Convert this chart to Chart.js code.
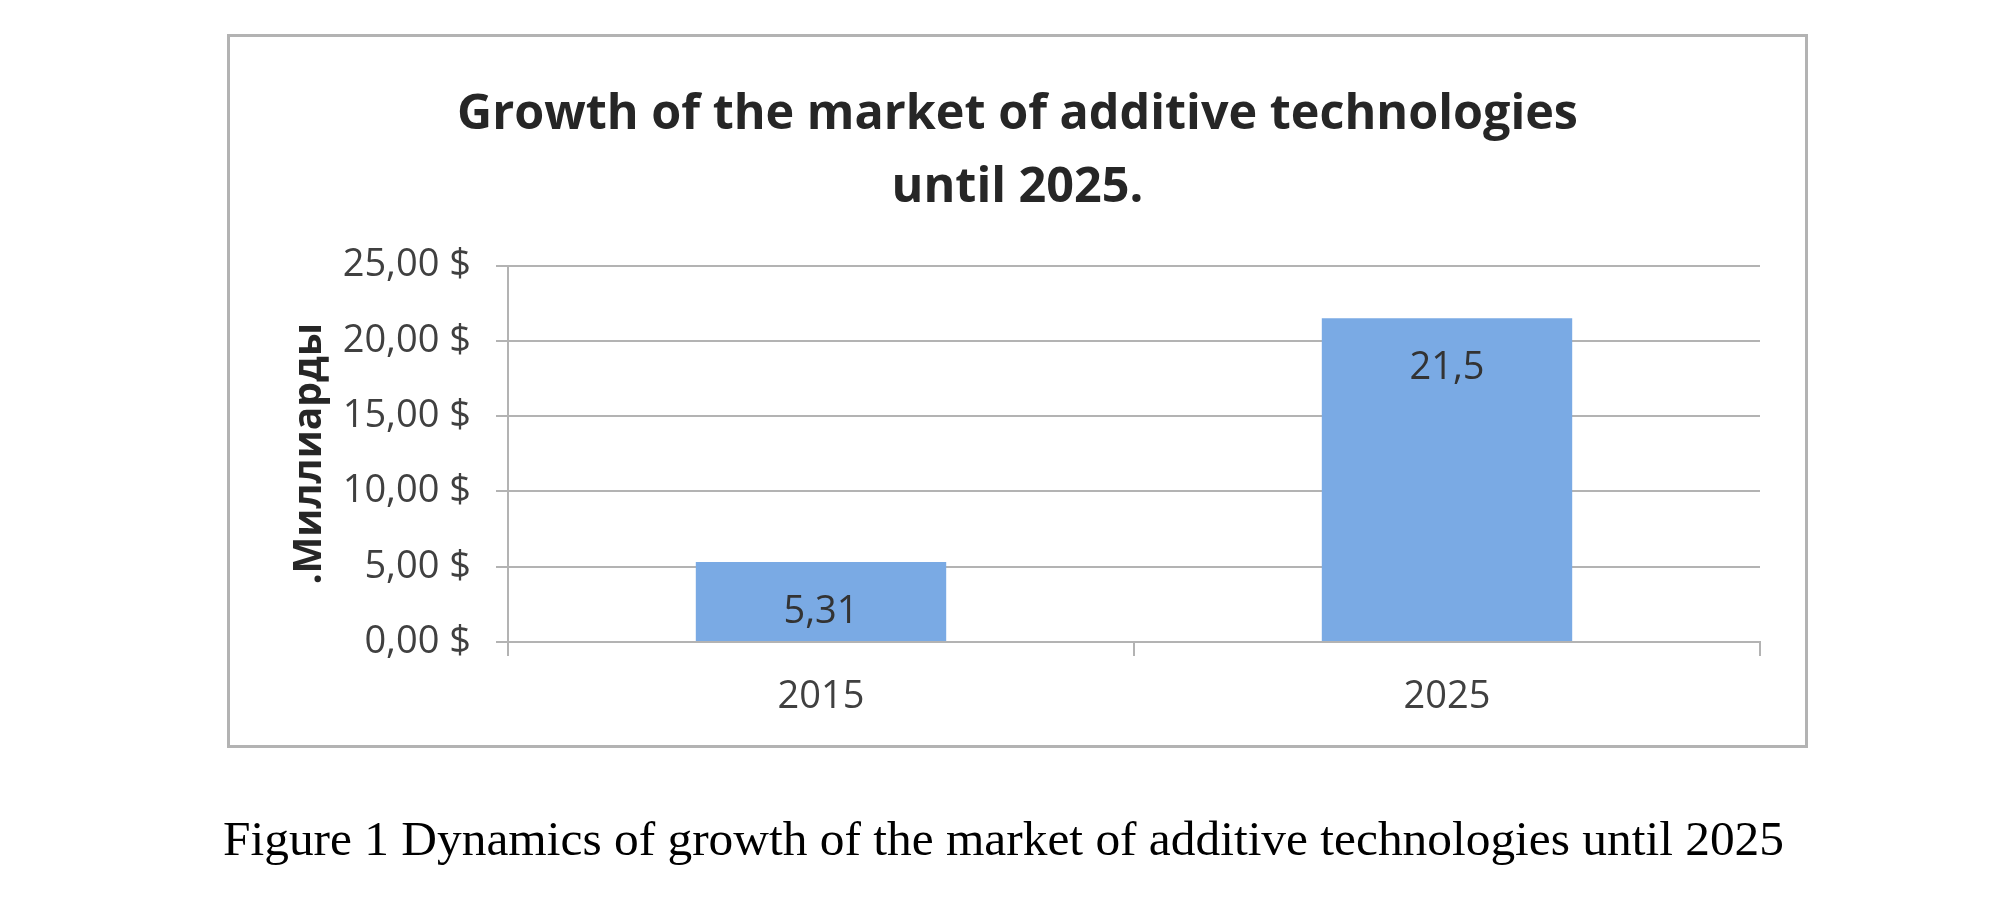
<!DOCTYPE html>
<html>
<head>
<meta charset="utf-8">
<script src="https://cdn.jsdelivr.net/npm/chart.js@4.4.1/dist/chart.umd.min.js"></script>
<style>
  html, body { margin: 0; padding: 0; background: #fff; }
  body { width: 2015px; height: 910px; position: relative; overflow: hidden; }
  #frame {
    position: absolute; left: 227px; top: 34px;
    width: 1575px; height: 708px;
    border: 3px solid #b3b3b3;
  }
  #caption {
    position: absolute; left: 213px; top: 814px; width: 1581px;
    text-align: center; font-family: "Liberation Serif", "Times New Roman", serif;
    font-size: 49.4px; line-height: 50px; color: #000; white-space: nowrap;
  }
</style>
</head>
<body>
<div id="frame"><canvas id="marketChart" width="1575" height="708"></canvas></div>
<div id="caption">Figure 1 Dynamics of growth of the market of additive technologies until 2025</div>
<script>
// data
var years = ['2015', '2025'];
var marketValues = [5.31, 21.5];
var yTicks = [0, 5, 10, 15, 20, 25];

var chartTitle = ['Growth of the market of additive technologies', 'until 2025.'];
var yTitle = '.Миллиарды';

function commaNum(v, digits) {
    var s = digits === undefined ? String(v) : v.toFixed(digits);
    return s.replace('.', ',');
}

// draws the value inside the top of each bar
var barValueLabels = {
    id: 'barValueLabels',
    afterDatasetsDraw: function (chart) {
        var ctx = chart.ctx;
        var meta = chart.getDatasetMeta(0);
        ctx.save();
        ctx.font = '38px "Open Sans"';
        ctx.fillStyle = '#333333';
        ctx.textAlign = 'center';
        ctx.textBaseline = 'middle';
        meta.data.forEach(function (bar, i) {
            ctx.fillText(commaNum(marketValues[i]), bar.x, bar.y + 50);
        });
        ctx.restore();
    }
};

var gridGrey = '#b3b3b3';
var textGrey = '#404040';

var ctx = document.getElementById('marketChart').getContext('2d');
var marketChart = new Chart(ctx, {
    type: 'bar',
    data: {
        labels: years,
        datasets: [{
            label: 'Market',
            data: marketValues,
            backgroundColor: 'rgb(122, 170, 228)',
            borderWidth: 0,
            barPercentage: 0.4,
            categoryPercentage: 1.0
        }]
    },
    options: {
        responsive: false,
        devicePixelRatio: 1,
        animation: false,
        layout: { padding: { left: 45, right: 45, top: 0, bottom: 0 } },
        plugins: {
            legend: { display: false },
            tooltip: { enabled: false },
            title: {
                display: true,
                text: chartTitle,
                color: '#262626',
                font: { family: 'Open Sans', size: 48.5, weight: 'bold', lineHeight: 1.5 },
                padding: { top: 42, bottom: 41 }
            }
        },
        scales: {
            x: {
                offset: true,
                grid: {
                    offset: true,
                    drawOnChartArea: false,
                    drawTicks: true,
                    tickLength: 14,
                    color: gridGrey,
                    lineWidth: 2
                },
                border: { display: true, color: gridGrey, width: 2 },
                ticks: {
                    color: textGrey,
                    font: { family: 'Open Sans', size: 38 },
                    padding: 18
                },
                afterFit: function (scale) { scale.height = 103; }
            },
            y: {
                min: 0,
                max: 25,
                afterBuildTicks: function (scale) {
                    scale.ticks = yTicks.map(function (v) { return { value: v }; });
                },
                grid: {
                    color: gridGrey,
                    lineWidth: 2,
                    drawTicks: true,
                    tickLength: 12
                },
                border: { display: true, color: gridGrey, width: 2 },
                ticks: {
                    color: textGrey,
                    font: { family: 'Open Sans', size: 38 },
                    padding: 25,
                    callback: function (v) { return commaNum(v, 2) + ' $'; }
                },
                title: {
                    display: true,
                    text: yTitle,
                    color: '#262626',
                    font: { family: 'Open Sans', size: 39, weight: 'bold', lineHeight: 1.2 },
                    padding: { top: 11, bottom: 0 }
                },
                afterFit: function (scale) { scale.width = 233; }
            }
        }
    },
    plugins: [barValueLabels]
});
</script>
</body>
</html>
